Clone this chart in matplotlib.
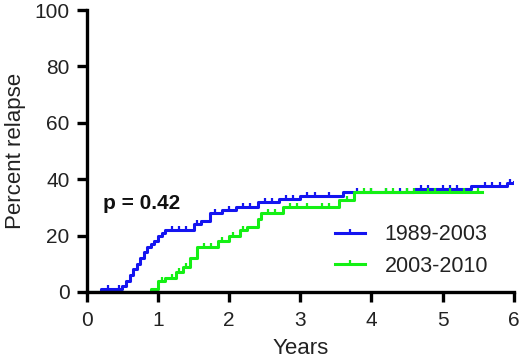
import matplotlib
matplotlib.use("Agg")
import matplotlib.pyplot as plt
from matplotlib.lines import Line2D

plt.rcParams['font.family'] = ['Liberation Sans', 'DejaVu Sans']

# Blue: 1989-2003 (step times in years, percent relapse after each step)
blue_t = [0.0, 0.2, 0.5, 0.55, 0.6, 0.65, 0.7, 0.75, 0.8, 0.85, 0.9, 0.95, 1.0, 1.05, 1.1,
          1.5, 1.6, 1.73, 1.9, 2.1, 2.4, 2.7, 3.0, 3.6, 4.6, 5.4, 5.9, 6.0]
blue_y = [0, 1, 2, 4, 6, 8, 10, 12, 14, 16, 17, 18, 20, 21, 22,
          24, 25, 28, 29, 30, 32, 33, 34, 35.5, 36.5, 37.5, 38.5, 39]
blue_cens_t = [0.3, 0.45, 1.2, 1.3, 1.4, 1.55, 1.8, 2.0, 2.2, 2.3, 2.5, 2.6, 2.8, 2.9, 3.1, 3.2,
               3.4, 3.8, 4.0, 4.2, 4.4, 4.5, 4.7, 4.8, 5.0, 5.1, 5.2, 5.6, 5.7, 5.8, 5.95]

# Green: 2003-2010
green_t = [0.0, 0.9, 1.0, 1.1, 1.25, 1.35, 1.45, 1.55, 1.84, 2.0, 2.15, 2.25, 2.4, 2.45,
           2.75, 3.55, 3.75, 5.55]
green_y = [0, 1, 4, 5, 7, 9, 12, 16, 18, 20, 22, 23, 26, 28,
           30, 32.5, 35.5, 35.5]
green_cens_t = [1.05, 1.2, 1.3, 1.4, 1.65, 1.75, 1.9, 2.05, 2.2, 2.55, 2.65, 2.85, 2.95, 3.1,
                3.3, 3.4, 3.65, 3.9, 4.0, 4.2, 4.3, 4.5, 4.6, 4.8, 4.9, 5.1, 5.3, 5.5]

xticks = [0, 1, 2, 3, 4, 5, 6]
yticks = [0, 20, 40, 60, 80, 100]

BLUE = '#1414f0'
GREEN = '#14f014'

fig = plt.figure(figsize=(5.2, 3.59), dpi=100)
ax = fig.add_axes([0.167, 0.187, 0.821, 0.785])


def step_val(ts, ys, t):
    v = ys[0]
    for ti, yi in zip(ts, ys):
        if ti <= t:
            v = yi
    return v


ax.step(blue_t, blue_y, where='post', color=BLUE, lw=2.2, zorder=3)
ax.plot(blue_cens_t, [step_val(blue_t, blue_y, t) for t in blue_cens_t], ls='none',
        marker=2, ms=3.2, mew=1.6, color=BLUE, zorder=3)
ax.step(green_t, green_y, where='post', color=GREEN, lw=2.2, zorder=4)
ax.plot(green_cens_t, [step_val(green_t, green_y, t) for t in green_cens_t], ls='none',
        marker=2, ms=3.2, mew=1.6, color=GREEN, zorder=4)

ax.set_xlim(0, 6)
ax.set_ylim(0, 100)
ax.set_xticks(xticks)
ax.set_yticks(yticks)
for s in ['top', 'right']:
    ax.spines[s].set_visible(False)
for s in ['left', 'bottom']:
    ax.spines[s].set_linewidth(2.4)
    ax.spines[s].set_zorder(5)
ax.tick_params(width=2.4, length=7.5, pad=5, labelsize=15, color='black', colors='#222222')
ax.tick_params(axis='x', pad=6)
ax.set_xlabel('Years', fontsize=16, labelpad=6, color='#222222')
ax.set_ylabel('Percent relapse', fontsize=16, labelpad=6, color='#222222')

ax.text(0.225, 29.5, 'p = 0.42', fontsize=15, fontweight='bold', va='baseline', color='#111111')

handles = [Line2D([], [], color=BLUE, lw=2.2, marker=2, ms=3.2, mew=1.6),
           Line2D([], [], color=GREEN, lw=2.2, marker=2, ms=3.2, mew=1.6)]
leg = ax.legend(handles, ['1989-2003', '2003-2010'], frameon=False, fontsize=15.5,
                loc='upper left', bbox_to_anchor=(0.581, 0.24), handlelength=1.4,
                handletextpad=0.9, labelspacing=0.5, borderpad=0, borderaxespad=0)
for t in leg.get_texts():
    t.set_color('#222222')

fig.savefig('out.png', dpi=100)
